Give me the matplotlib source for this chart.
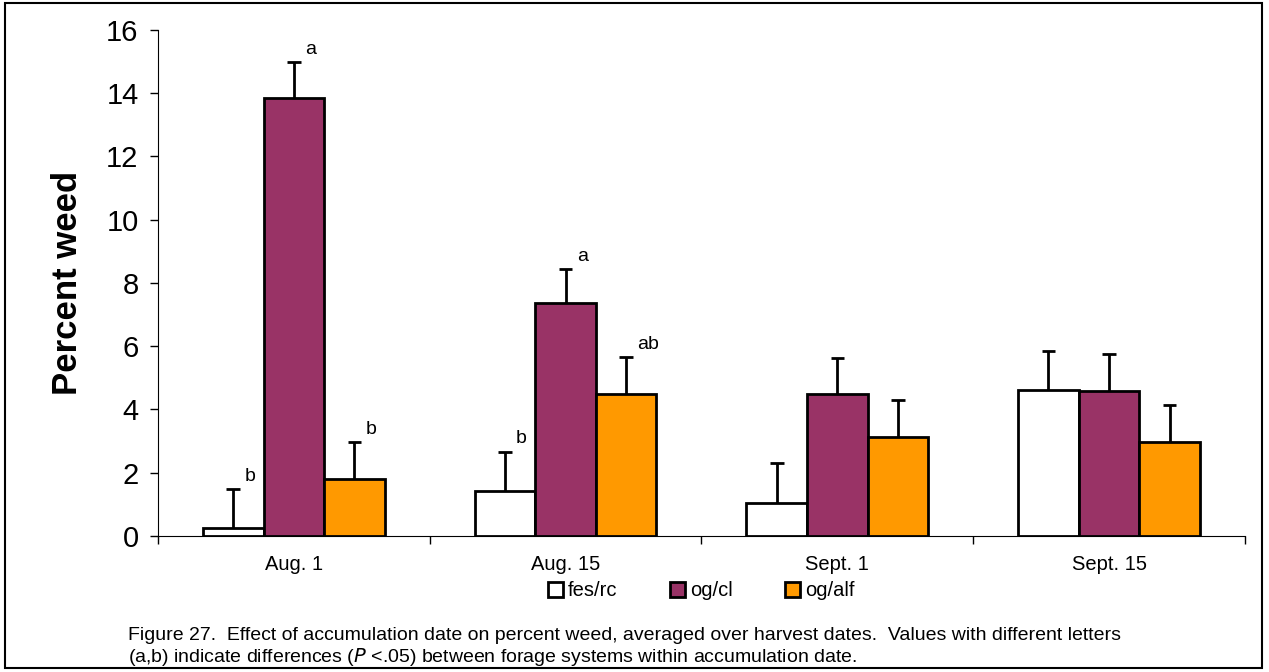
import numpy as np
import matplotlib
matplotlib.use("Agg")
import matplotlib.pyplot as plt
from matplotlib.patches import Rectangle

dates = ["Aug. 1", "Aug. 15", "Sept. 1", "Sept. 15"]
systems = ["fes/rc", "og/cl", "og/alf"]
colors = ["#ffffff", "#993366", "#ff9900"]

fes_rc = [0.25, 1.42, 1.04, 4.62]
og_cl = [13.85, 7.36, 4.48, 4.60]
og_alf = [1.80, 4.49, 3.13, 2.97]
fes_rc_se = [1.23, 1.25, 1.26, 1.23]
og_cl_se = [1.13, 1.09, 1.14, 1.15]
og_alf_se = [1.16, 1.16, 1.16, 1.17]
fes_rc_let = ["b", "b", "", ""]
og_cl_let = ["a", "a", "", ""]
og_alf_let = ["b", "ab", "", ""]

values = [fes_rc, og_cl, og_alf]
errors = [fes_rc_se, og_cl_se, og_alf_se]
letters = [fes_rc_let, og_cl_let, og_alf_let]

plt.rcParams['font.family'] = ['Liberation Sans', 'DejaVu Sans']
fig = plt.figure(figsize=(12.69, 6.72), dpi=100)
ax = fig.add_axes([0.1245, 0.2024, 0.8565, 0.753])

x = np.arange(len(dates))
w = 0.223
for k in range(3):
    pos = x + (k - 1) * w
    ax.bar(pos, values[k], w, color=colors[k], edgecolor="black",
           linewidth=2, label=systems[k], zorder=3)
    tops = np.array(values[k]) + np.array(errors[k])
    ax.vlines(pos, values[k], tops, color="black", linewidth=2, zorder=2)
    ax.hlines(tops, pos - 0.025, pos + 0.025, color="black", linewidth=2, zorder=2)
    for i in range(len(dates)):
        if letters[k][i]:
            ax.annotate(letters[k][i], (pos[i], tops[i]), xytext=(8, 3),
                        textcoords="offset points", ha="left", va="bottom",
                        fontsize=14)

ax.set_xlim(-0.5, 3.5)
ax.set_ylim(0, 16)
ax.set_yticks(np.arange(0, 17, 2))
ax.tick_params(axis="y", labelsize=21, length=6, width=1, pad=8)
ax.set_xticks(x)
ax.set_xticklabels(dates, fontsize=14.5)
ax.tick_params(axis="x", length=0, pad=14)
ax.set_xticks(np.arange(-0.5, 4, 1), minor=True)
ax.tick_params(axis="x", which="minor", length=6, width=1)
ax.spines["top"].set_visible(False)
ax.spines["right"].set_visible(False)
ax.set_ylabel("Percent weed", fontsize=25, fontweight="bold", labelpad=16)

ax.legend(loc="upper center", bbox_to_anchor=(0.5, -0.062), ncol=3,
          frameon=False, fontsize=14.5, handlelength=0.75, handleheight=0.75,
          handletextpad=0.25, columnspacing=2.6, borderpad=0.2)

fig.text(128 / 1269, 1 - 636 / 672,
         "Figure 27.  Effect of accumulation date on percent weed, averaged over harvest dates.  Values with different letters",
         fontsize=14, va="center", ha="left")
fig.text(128 / 1269, 1 - 657 / 672,
         "(a,b) indicate differences ($\\it{P}$ <.05) between forage systems within accumulation date.",
         fontsize=14, va="center", ha="left")

fig.patches.append(Rectangle((5 / 1269, 4 / 672), 1257 / 1269, 665 / 672,
                             transform=fig.transFigure, fill=False,
                             edgecolor="black", linewidth=1.5))

fig.savefig("out.png", dpi=100)
